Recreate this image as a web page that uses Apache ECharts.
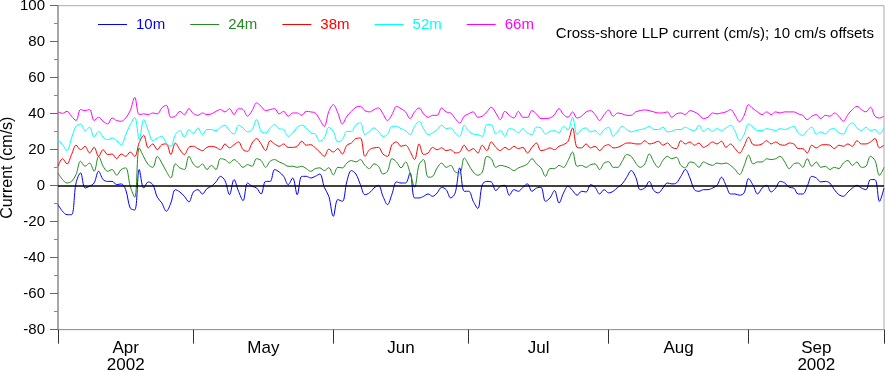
<!DOCTYPE html>
<html>
<head>
<meta charset="utf-8">
<script src="https://cdn.jsdelivr.net/npm/echarts@6/dist/echarts.min.js"></script>
<style>
html,body{margin:0;padding:0;background:#fff;}
#chart{width:885px;height:372px;}
</style>
</head>
<body>
<div id="chart"></div>
<script>
// Daily samples starting 2002-04-01 (index = day offset), values include the 10 cm/s plotting offsets
const monthLabels = ['Apr\n2002', 'May', 'Jun', 'Jul', 'Aug', 'Sep\n2002'];
const monthStartDays = [0, 30, 61, 91, 122, 153, 183];
const seriesNames = ['10m', '24m', '38m', '52m', '66m'];
const seriesColors = ['#0000ff', '#228b22', '#ff0000', '#00ffff', '#ff00ff'];
const yTicks = { min: -80, max: 100, step: 20 };
const zeroLine = 0;
const titleText = 'Cross-shore LLP current (cm/s); 10 cm/s offsets';
const yAxisTitle = 'Current (cm/s)';

const b10 = [
-10.5,-14.2,-16.1,-16.1,1.5,7.1,-1.3,-0.3,1.5,8.0,
3.4,2.4,2.4,0.6,1.0,-2.2,-12.4,-13.5,9.0,-1.3,
2.1,0.6,-6.4,-9.6,-14.2,-9.6,-2.2,-3.5,-5.9,-9.0,
-3.5,-2.2,-4.6,-1.6,-0.3,2.1,5.2,2.8,-5.0,3.4,
-3.1,-8.3,1.5,-0.3,-1.3,-4.6,2.4,2.4,9.0,7.6,
5.2,0.6,4.3,-5.0,5.2,5.2,4.3,5.2,6.5,-0.9,
-5.9,-17.0,-7.7,-8.7,2.4,8.4,6.5,0.6,-5.0,-4.0,
-1.3,0.2,-5.9,-10.5,-4.6,2.1,1.5,1.5,7.1,-6.8,
-6.8,-5.9,-4.6,-5.9,-4.0,-0.9,-2.2,-6.8,-4.0,9.9,
-3.1,-3.1,-8.7,-12.7,0.6,2.4,2.1,-2.7,-0.3,0.2,
-5.3,-2.2,-3.1,-0.9,1.0,-3.1,-1.3,-0.9,-8.7,-6.8,
-2.7,-9.6,-4.0,-0.3,-2.7,-5.3,-3.1,-3.5,0.6,-0.9,
-4.6,-2.2,-4.0,-3.1,-0.9,1.0,4.7,8.4,4.7,-2.2,
-1.3,2.4,-2.7,-4.0,-1.3,1.5,1.0,1.5,5.2,9.0,
4.3,-2.2,-3.1,-2.2,-2.2,-1.3,0.2,4.7,0.2,-4.6,
-4.6,-5.3,-4.0,3.9,0.2,-4.6,-1.3,0.2,-3.5,-1.3,
2.4,1.5,-0.9,-1.3,-4.6,-4.6,-0.3,5.2,4.3,2.1,
2.4,1.5,-2.2,-5.0,-5.9,-3.5,-1.3,0.2,-1.3,-2.2,
3.4,3.4,-8.7,-1.3
];
const g24 = [
7.1,3.4,1.5,2.4,6.2,13.6,10.8,12.6,8.0,16.3,
10.8,8.0,9.0,5.8,9.0,9.9,-0.3,-6.4,21.0,16.0,
11.7,10.2,16.3,12.6,8.0,4.3,12.1,9.9,9.0,16.3,
12.0,10.2,12.1,9.0,11.3,9.0,15.0,14.5,12.6,14.5,
12.6,10.2,11.7,10.8,15.0,14.0,10.2,13.6,14.5,13.2,
12.1,10.8,10.8,10.2,10.8,9.5,8.0,9.5,9.9,8.4,
10.0,6.0,10.2,9.9,12.6,14.0,13.2,14.5,11.3,9.5,
12.1,10.8,6.5,8.0,15.0,13.2,9.9,13.2,7.1,-0.9,
11.7,14.5,4.7,5.2,9.9,12.6,10.2,11.3,7.6,7.1,
15.4,11.5,7.6,5.8,7.6,16.3,15.0,10.2,11.3,10.8,
9.9,8.4,9.9,10.8,12.1,15.0,12.1,9.9,5.2,9.5,
9.5,11.3,10.2,14.0,18.7,10.8,11.3,10.2,11.7,12.1,
9.0,12.6,13.3,10.2,10.2,13.6,17.3,16.3,12.6,10.2,
12.1,17.6,13.2,10.2,14.0,16.3,15.0,15.8,11.3,9.9,
13.2,12.6,10.2,13.2,12.1,11.3,12.6,12.1,12.6,11.3,
9.0,6.2,11.0,17.0,12.1,13.2,13.2,15.0,14.5,15.0,
16.3,13.2,9.5,12.1,12.6,10.2,15.0,10.8,13.2,10.2,
10.8,9.0,10.2,9.5,12.6,14.0,11.3,13.2,10.2,10.8,
16.3,14.0,5.8,10.2
];
const r38 = [
10.8,15.0,12.1,17.3,22.5,20.0,21.9,18.2,21.3,16.3,
20.0,17.3,17.6,15.0,17.6,16.3,18.7,16.3,24.0,28.0,
21.0,23.2,20.0,22.8,23.2,17.3,23.7,20.0,17.3,21.3,
21.9,20.6,19.5,21.3,21.9,21.3,20.0,23.2,21.0,22.8,
24.3,20.0,19.1,23.7,26.2,23.2,19.5,25.0,23.2,21.9,
23.2,21.3,21.3,21.9,24.7,22.5,22.8,21.0,18.7,16.3,
20.3,18.7,20.6,17.6,22.5,23.7,26.2,26.5,16.3,20.0,
21.0,21.3,17.6,16.3,22.8,24.3,21.9,22.5,19.1,14.5,
23.2,17.3,18.2,21.3,20.0,21.0,19.5,20.0,18.2,18.7,
22.5,19.3,20.6,18.2,22.5,19.5,24.3,21.3,19.5,21.3,
20.0,21.9,20.6,21.3,18.2,21.3,23.7,19.5,20.0,21.0,
20.0,21.9,22.8,24.7,32.1,21.3,21.0,23.2,21.0,21.9,
19.5,21.9,22.8,21.0,21.3,22.5,23.7,23.7,23.2,23.2,
25.0,23.2,23.7,24.7,22.5,23.7,21.3,20.6,25.0,23.2,
24.3,22.5,23.7,21.3,22.5,24.3,23.2,24.7,21.3,23.2,
20.6,18.2,22.0,26.9,22.8,22.5,23.2,25.0,23.2,24.3,
22.8,22.5,23.7,23.2,20.6,20.6,18.2,22.5,21.0,22.5,
22.8,22.5,20.6,22.5,21.9,23.2,21.9,25.0,23.2,23.2,
24.3,26.2,21.0,22.5
];
const c52 = [
25.6,22.8,19.5,26.5,33.0,34.3,30.6,32.5,26.9,30.2,
26.9,25.6,26.5,25.0,22.5,28.4,33.9,38.0,25.6,36.7,
30.6,25.0,26.5,27.4,23.7,21.9,28.4,30.6,26.9,31.2,
29.0,32.1,28.4,31.2,31.2,30.6,32.5,33.6,30.6,28.7,
33.6,32.1,29.9,31.2,36.7,30.2,29.3,32.1,33.9,31.7,
31.2,27.4,29.3,32.5,33.6,32.1,29.3,28.7,24.7,26.5,
32.4,30.2,24.3,25.6,30.2,30.2,33.9,34.9,28.4,30.2,
32.1,30.2,27.4,28.4,33.0,33.0,31.7,30.6,28.4,33.0,
35.8,31.7,28.4,29.3,31.2,33.6,31.7,32.1,29.3,27.4,
33.6,30.2,28.7,28.4,27.4,33.9,33.9,28.7,30.6,27.4,
31.7,31.2,29.3,31.7,29.3,28.4,32.5,32.1,28.7,30.2,
30.6,29.3,33.0,31.0,38.0,28.4,31.2,32.1,29.9,30.6,
28.4,31.2,32.4,27.4,30.2,33.0,31.2,29.9,30.6,31.2,
31.7,33.0,31.2,31.2,32.5,29.9,30.2,31.2,31.2,32.5,
31.2,30.6,33.6,30.2,31.7,30.2,31.7,30.6,32.1,33.6,
30.2,25.0,28.5,34.3,32.5,30.6,30.6,31.7,31.2,30.6,
31.7,31.2,32.1,33.0,29.3,28.0,30.6,32.5,28.7,29.9,
28.7,31.2,31.7,29.3,28.7,33.0,34.9,32.1,30.6,32.5,
30.6,31.2,28.7,32.1
];
const m66 = [
41.0,40.2,41.3,38.6,36.2,42.3,41.7,42.3,36.2,38.0,
35.8,34.3,37.6,36.2,35.8,37.6,41.7,49.1,39.5,39.9,
39.5,40.4,39.9,43.2,44.7,38.0,38.6,41.3,39.5,42.8,
40.0,39.1,40.4,39.5,39.9,41.3,42.3,41.0,42.8,39.5,
42.8,42.3,38.6,41.7,46.0,44.1,41.7,42.3,42.8,39.9,
41.3,38.6,40.4,40.4,39.1,41.3,41.0,40.4,36.7,33.0,
41.3,45.0,40.4,34.3,38.6,41.3,43.6,44.1,41.7,41.0,
42.3,43.2,39.9,36.2,39.5,44.1,42.8,41.0,37.3,41.0,
43.2,39.9,38.0,39.1,39.1,43.2,41.0,40.4,37.3,34.9,
38.6,40.0,41.0,38.0,38.6,41.0,43.6,40.4,36.7,41.3,
39.1,37.6,41.3,38.0,38.0,41.7,39.9,37.3,37.3,37.6,
39.5,42.8,39.5,38.0,41.0,37.6,38.6,41.0,41.7,39.5,
36.2,39.5,42.0,38.6,40.4,39.9,39.1,39.1,41.0,41.7,
42.1,41.7,41.0,40.4,40.4,41.0,38.0,39.9,40.4,39.5,
41.7,41.0,39.5,37.3,38.0,40.4,39.9,40.4,41.0,42.3,
39.1,35.5,39.0,45.0,42.8,41.0,39.5,41.0,39.5,41.0,
40.4,41.0,41.0,41.0,39.9,39.1,36.7,38.6,39.5,37.3,
39.1,38.6,40.4,38.6,35.8,39.5,42.3,44.1,42.3,41.0,
43.6,38.6,37.6,38.6
];
const seriesValues = [b10, g24, r38, c52, m66];

const FONT = '"Liberation Sans", Arial, Helvetica, sans-serif';
const totalDays = monthStartDays[monthStartDays.length - 1];

// Half-day category axis used only for month ticks and centred month labels
const halfDayCats = [];
for (let i = 0; i <= totalDays * 2; i++) halfDayCats.push(String(i));
const tickIdx = new Set(monthStartDays.map(d => d * 2));
const labelIdx = {};
for (let k = 0; k < monthLabels.length; k++) {
  labelIdx[monthStartDays[k] + monthStartDays[k + 1]] = monthLabels[k];
}

const chart = echarts.init(document.getElementById('chart'), null, { renderer: 'canvas' });

const series = seriesNames.map((name, k) => ({
  name: name,
  type: 'line',
  xAxisIndex: 0,
  yAxisIndex: 0,
  data: seriesValues[k].map((v, i) => [i, v]),
  smooth: 0.35,
  symbol: 'none',
  showSymbol: false,
  lineStyle: { color: seriesColors[k], width: 1 },
  itemStyle: { color: seriesColors[k] },
  animation: false,
  z: 3
}));
series[0].markLine = {
  silent: true,
  symbol: 'none',
  label: { show: false },
  lineStyle: { color: '#000', width: 1.5, type: 'solid' },
  data: [{ yAxis: zeroLine }],
  animation: false
};

chart.setOption({
  animation: false,
  backgroundColor: '#fff',
  textStyle: { fontFamily: FONT },
  title: {
    text: titleText,
    right: 11,
    top: 26,
    padding: 0,
    textStyle: { fontFamily: FONT, fontSize: 15, fontWeight: 'normal', color: '#000' }
  },
  legend: {
    left: 98,
    top: 17,
    padding: 0,
    icon: 'rect',
    itemWidth: 29,
    itemHeight: 1,
    itemGap: 25,
    textStyle: { fontFamily: FONT, fontSize: 15, padding: [0, 0, 0, 4] },
    data: seriesNames.map((n, k) => ({ name: n, textStyle: { color: seriesColors[k] } }))
  },
  graphic: [{
    type: 'text',
    x: 8,
    y: 167.7,
    rotation: Math.PI / 2,
    style: {
      text: yAxisTitle,
      font: '16px ' + FONT,
      fill: '#000',
      align: 'center',
      verticalAlign: 'middle'
    }
  }],
  grid: {
    left: 58, right: 1, top: 5.7, bottom: 42.3,
    containLabel: false,
    outerBoundsMode: 'none',
    show: true, borderColor: '#aaa', borderWidth: 1, backgroundColor: 'transparent'
  },
  xAxis: [
    {
      type: 'value', min: 0, max: totalDays, show: false
    },
    {
      type: 'category',
      data: halfDayCats,
      boundaryGap: false,
      position: 'bottom',
      axisLine: { show: true, lineStyle: { color: '#999', width: 1 } },
      axisTick: {
        show: true, length: 14, lineStyle: { color: '#333', width: 1 },
        interval: (index) => tickIdx.has(index)
      },
      axisLabel: {
        show: true,
        interval: (index) => labelIdx[index] !== undefined,
        formatter: (value, index) => labelIdx[index] || '',
        fontFamily: FONT, fontSize: 17, color: '#000', lineHeight: 17, margin: 10
      },
      splitLine: { show: false }
    }
  ],
  yAxis: {
    type: 'value',
    min: yTicks.min, max: yTicks.max, interval: yTicks.step,
    axisLine: { show: true, lineStyle: { color: '#999', width: 1.5 } },
    axisTick: { show: true, length: 8, lineStyle: { color: '#666', width: 1 } },
    minorTick: { show: true, splitNumber: 2, length: 4, lineStyle: { color: '#888', width: 1 } },
    axisLabel: { fontFamily: FONT, fontSize: 15, color: '#000', margin: 13 },
    splitLine: { show: false }
  },
  series: series
});
</script>
</body>
</html>
